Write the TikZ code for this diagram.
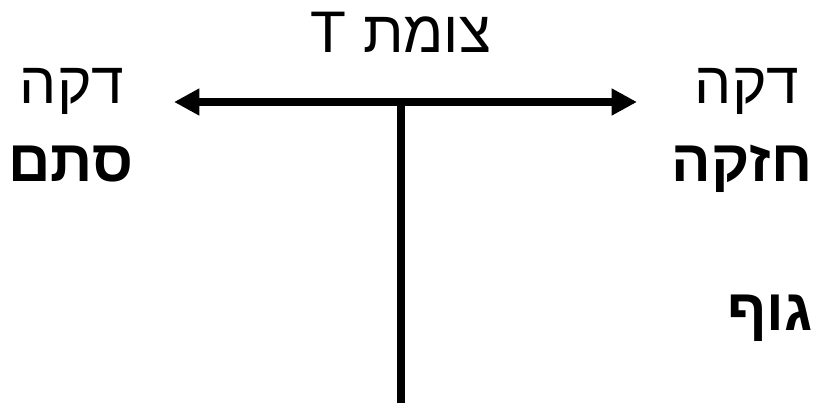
\documentclass[tikz,border=0pt]{standalone}
\usepackage{fontspec}
\newfontfamily\heb[Script=Hebrew]{Liberation Sans}
\TeXXeTstate=1
\usetikzlibrary{arrows.meta}
\begin{document}
\begin{tikzpicture}[x=0.75pt,y=-0.75pt,
  lbl/.style={font=\heb\fontsize{44}{50}\selectfont, inner sep=0pt, anchor=base},
  blbl/.style={lbl, font=\heb\bfseries\fontsize{44}{50}\selectfont},
  thick line/.style={line width=6pt},
  arr/.style={thick line, {Triangle[length=19pt,width=19pt]}-{Triangle[length=19pt,width=19pt]}}]
\useasboundingbox (0,0) rectangle (815,403);
\node[lbl] (title) at (401,53) {\beginR צומת T\endR};
\node[lbl] (ld) at (72,104) {\beginR דקה\endR};
\node[blbl] (ls) at (71,181) {\beginR סתם\endR};
\node[lbl] (rd) at (747,104) {\beginR דקה\endR};
\node[blbl] (rh) at (742,181) {\beginR חזקה\endR};
\node[blbl, anchor=base west] (body) at (727,330) {\beginR גוף\endR};
\coordinate (L) at (174,102);
\coordinate (R) at (637,102);
\coordinate (J) at (401,102);
\coordinate (B) at (401,403);
\draw[arr] (L) -- (R);
\draw[thick line] ([yshift=3pt]J) -- (B);
\end{tikzpicture}
\end{document}
